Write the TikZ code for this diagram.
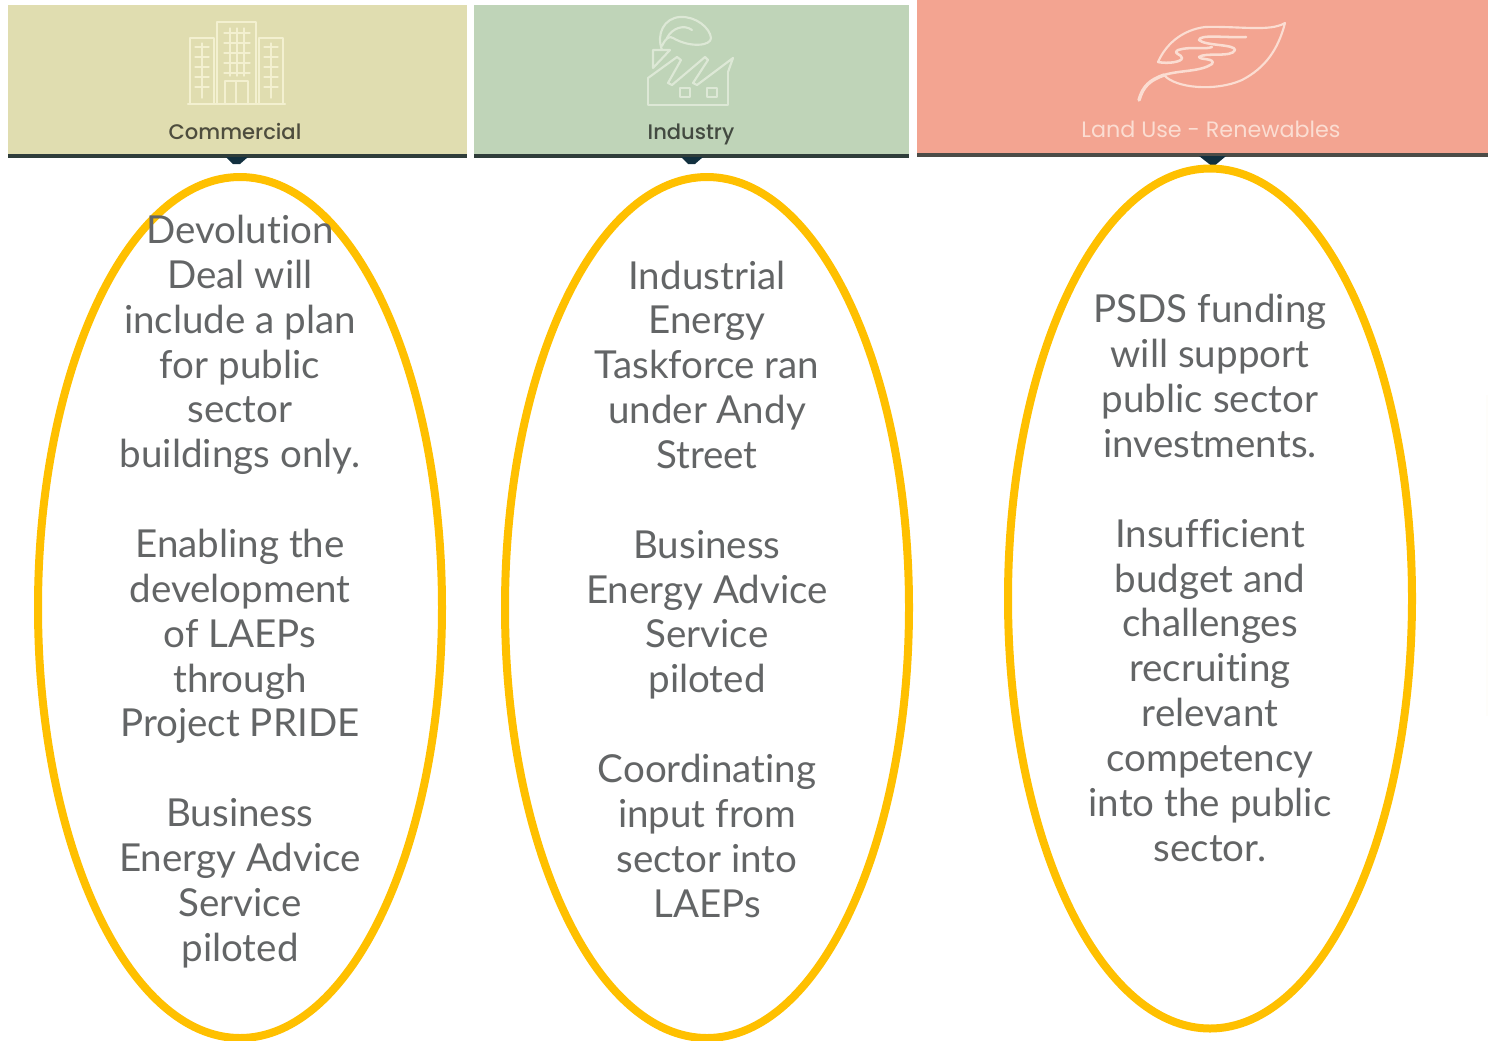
\documentclass[tikz,border=0pt]{standalone}
\usepackage{fontspec}
\setmainfont[Ligatures=CommonOff]{Lato}
\newfontfamily\labelfont{Poppins Medium}
\newfontfamily\lightlabelfont{Poppins}
\definecolor{bandA}{HTML}{E0DDB0}
\definecolor{bandB}{HTML}{BFD4B8}
\definecolor{bandC}{HTML}{F3A491}
\definecolor{ringcol}{HTML}{FFC000}
\definecolor{bodycol}{HTML}{636566}
\definecolor{rulecol}{HTML}{2F3D3A}
\definecolor{tabcol}{HTML}{12303F}
\definecolor{iconA}{HTML}{F3F0D0}
\definecolor{iconB}{HTML}{DDE8D6}
\definecolor{iconC}{HTML}{FBDDD2}
\tikzset{
  band/.style={draw=none},
  ring/.style={draw=ringcol,line width=6pt},
  bodytext/.style={align=center,text=bodycol,inner sep=0pt,font=\fontsize{28.9}{33.64}\selectfont},
  bandlabel/.style={inner sep=0pt,anchor=base,font=\labelfont\fontsize{15.8}{18}\selectfont},
  glyph/.style={line width=1.6pt,line join=round,line cap=round},
  pane/.style={line width=1pt}
}
\begin{document}
\begin{tikzpicture}[x=0.75pt,y=-0.75pt]
\useasboundingbox (0,0) rectangle (1488,1040);
% bands
\fill[bandA] (8,5) rectangle (467,155);
\fill[bandB] (474,5) rectangle (909,155);
\fill[bandC] (917,0) rectangle (1488,153);
\fill[rulecol] (8,154) rectangle (467,158);
\fill[rulecol] (474,154) rectangle (909,158);
\fill[rulecol!85!bandC] (917,152.5) rectangle (1488,157);
\fill[tabcol] (226,157) -- (248,157) -- (240,164) -- (233,164) -- cycle;
\fill[tabcol] (681,157) -- (703,157) -- (695,164) -- (688,164) -- cycle;
\fill[tabcol] (1199,156) -- (1226,156) -- (1213,167) -- cycle;
\fill[white!90!iconA] (1486,395) rectangle (1488,716);
% building icon
\begin{scope}[draw=iconA,glyph]
\draw (190,103) -- (190,38) -- (214,38) -- (214,103);
\draw (217,103) -- (217,22) -- (256,22) -- (256,103);
\draw (259,103) -- (259,38) -- (283,38) -- (283,103);
\draw (188,104) -- (285,104);
\draw (225,103) -- (225,81) -- (248,81) -- (248,103);
\draw (236,81) -- (236,103);
\foreach \y in {47,57,67,77,87}{
  \draw[pane] (195,\y) -- (209,\y);
  \draw[pane] (264,\y) -- (278,\y);
}
\foreach \y in {33,43,53,63,73}{\draw[pane] (224,\y) -- (250,\y);}
\foreach \x in {202,271}{\draw[pane] (\x,43) -- (\x,98);}
\foreach \x in {230,237,244}{\draw[pane] (\x,28) -- (\x,76);}
\end{scope}
% factory icon
\begin{scope}[draw=iconB,glyph]
\draw (648,78) -- (648,105) -- (728,105) -- (728,72);
\draw (648,78) -- (677,57) -- (681,60) -- (668,83) -- (672,85) -- (705,57) -- (708,60) -- (693,83) -- (697,85) -- (733,58) -- (728,72);
\draw (653,68) -- (653,50) -- (670,50) -- (653,68);
\draw (662,50) .. controls (656,34) and (664,18) .. (680,17) .. controls (696,16) and (710,28) .. (711,38) .. controls (711,46) and (690,48) .. (673,38) .. controls (670,36) and (666,37) .. (662,46);
\draw (692,30) .. controls (684,24) and (672,28) .. (667,38);
\draw[pane] (680,88) rectangle (690,97);
\draw[pane] (707,88) rectangle (717,97);
\end{scope}
% leaf icon
\begin{scope}[draw=iconC,glyph]
\draw[line width=2.6pt] (1139,100) .. controls (1143,86) and (1150,80) .. (1164,75);
\draw (1164,75) .. controls (1175,88) and (1215,92) .. (1242,80) .. controls (1265,68) and (1278,50) .. (1285,23) .. controls (1270,32) and (1240,26) .. (1205,27) .. controls (1182,30) and (1166,44) .. (1158,62);
\draw[line width=1.9pt] (1164,75) .. controls (1180,70) and (1200,72) .. (1212,64) .. controls (1216,58) and (1200,60) .. (1199,57) .. controls (1205,52) and (1232,58) .. (1235,50) .. controls (1235,44) and (1205,46) .. (1199,40) .. controls (1200,34) and (1225,38) .. (1246,37);
\draw[line width=1.9pt] (1158,62) .. controls (1168,64) and (1182,62) .. (1182,58) .. controls (1182,54) and (1172,54) .. (1178,50) .. controls (1190,46) and (1205,50) .. (1212,47);
\end{scope}
% band labels
\node[bandlabel,text=black!65!bandA] (commercial) at (235,139.5) {Commercial};
\node[bandlabel,text=black!65!bandB] (industry) at (691,139.5) {Industry};
\node[bandlabel,text=iconC,font=\lightlabelfont\fontsize{16.7}{18}\selectfont] (landuse) at (1211,137.5) {Land Use - Renewables};
% rings
\draw[ring] (240,607.5) ellipse (202 and 430.5);
\draw[ring] (707,607.5) ellipse (202 and 430.5);
\draw[ring] (1210,598.5) ellipse (202 and 430);
% texts
\node[bodytext] (first) at (240,591.5) {Devolution\\Deal will\\include a plan\\for public\\sector\\buildings only.\\\mbox{}\\Enabling the\\development\\of LAEPs\\through\\Project PRIDE\\\mbox{}\\Business\\Energy Advice\\Service\\piloted};
\node[bodytext] (second) at (707,589) {Industrial\\Energy\\Taskforce ran\\under Andy\\Street\\\mbox{}\\Business\\Energy Advice\\Service\\piloted\\\mbox{}\\Coordinating\\input from\\sector into\\LAEPs};
\node[bodytext] (third) at (1210,578) {PSDS funding\\will support\\public sector\\investments.\\\mbox{}\\Insufficient\\budget and\\challenges\\recruiting\\relevant\\competency\\into the public\\sector.};
\end{tikzpicture}
\end{document}
